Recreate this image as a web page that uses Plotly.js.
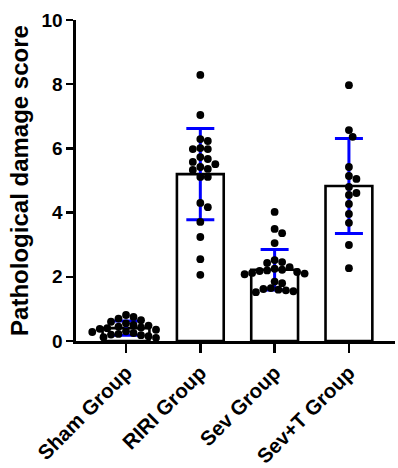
<!DOCTYPE html>
<html>
<head>
<meta charset="utf-8">
<script src="https://cdn.plot.ly/plotly-3.0.1.min.js"></script>
<style>html,body{margin:0;padding:0;background:#fff;}#chart{width:398px;height:468px;}</style>
</head>
<body>
<div id="chart"></div>
<script>
const categories = ["Sham Group", "RIRI Group", "Sev Group", "Sev+T Group"];
const means = [0.40, 5.20, 2.22, 4.83];
const sds = [0.22, 1.42, 0.63, 1.48];
const shamValues = [0.81, 0.75, 0.70, 0.65, 0.60, 0.55, 0.50, 0.48, 0.45, 0.42, 0.40, 0.38, 0.35, 0.30, 0.28, 0.25, 0.22, 0.20, 0.18, 0.15, 0.12, 0.10];
const ririValues = [8.29, 7.04, 6.23, 6.29, 5.98, 5.98, 6.01, 5.73, 5.67, 5.51, 5.58, 5.42, 5.36, 5.33, 5.11, 5.11, 4.17, 4.30, 3.71, 3.24, 2.55, 2.06];
const sevValues = [4.02, 3.49, 3.36, 3.05, 2.52, 2.46, 2.43, 2.30, 2.25, 2.22, 2.20, 2.18, 2.15, 2.12, 2.10, 2.08, 1.85, 1.80, 1.65, 1.62, 1.58, 1.55, 1.52, 1.60];
const sevTValues = [7.97, 6.57, 6.36, 5.42, 5.05, 5.14, 4.80, 4.61, 4.55, 4.27, 3.96, 3.68, 2.99, 2.27];
const groupValues = [shamValues, ririValues, sevValues, sevTValues];
const yTicks = [0, 2, 4, 6, 8, 10];

// beeswarm layout computed from the values (pixel scale of the plot)
const W = 398, H = 468;
const margin = {l: 76, r: 3, t: 20, b: 127};
const xRange = [-0.673, 3.62];
const yRange = [0, 10];
const pxX = (W - margin.l - margin.r) / (xRange[1] - xRange[0]);
const pxY = (H - margin.t - margin.b) / (yRange[1] - yRange[0]);
const D = 7.5;
function swarm(vals, center) {
  const placed = [];
  const sorted = vals.slice().sort((a, b) => b - a);
  const xs = [], ys = [];
  sorted.forEach(v => {
    const py = v * pxY;
    let off = 0;
    for (let k = 0; k < 60; k++) {
      const cand = k === 0 ? 0 : (k % 2 ? 1 : -1) * Math.ceil(k / 2) * D * 0.5;
      const ok = placed.every(p => Math.hypot(p[0] - cand, p[1] - py) >= D * 0.98);
      if (ok) { off = cand; break; }
    }
    placed.push([off, py]);
    xs.push(center + off / pxX);
    ys.push(v);
  });
  return {xs, ys};
}

const traces = [{
  type: 'bar',
  x: categories.map((c, i) => i),
  y: means,
  width: 0.63,
  marker: {color: '#ffffff', line: {color: '#000000', width: 2.6}},
  error_y: {type: 'data', array: sds, visible: true, color: '#0000ff', thickness: 3, width: 14},
  hoverinfo: 'none'
}];
groupValues.forEach((vals, i) => {
  const s = swarm(vals, i);
  traces.push({
    type: 'scatter', mode: 'markers', x: s.xs, y: s.ys,
    marker: {color: '#000000', size: 7.8}, hoverinfo: 'none'
  });
});

const layout = {
  width: W, height: H,
  margin: margin,
  paper_bgcolor: '#ffffff', plot_bgcolor: '#ffffff',
  showlegend: false,
  font: {family: 'Arial, "Liberation Sans", sans-serif', color: '#000000'},
  xaxis: {
    range: xRange, tickmode: 'array', tickvals: categories.map((c, i) => i),
    ticktext: categories.map(c => '<b>' + c + '</b>'),
    tickangle: -45, tickfont: {size: 20.5, color: '#000'},
    showline: true, linecolor: '#000', linewidth: 2.6,
    ticks: 'outside', ticklen: 9, tickwidth: 2.4, tickcolor: '#000',
    showgrid: false, zeroline: false, fixedrange: true
  },
  yaxis: {
    range: yRange, tickmode: 'array', tickvals: yTicks,
    ticktext: yTicks.map(t => '<b>' + t + '</b>'),
    tickfont: {size: 19, color: '#000'},
    showline: true, linecolor: '#000', linewidth: 2.6,
    ticks: 'outside', ticklen: 7, tickwidth: 2.4, tickcolor: '#000',
    showgrid: false, zeroline: false,
    title: {text: '<b>Pathological damage score</b>', font: {size: 24, color: '#000'}, standoff: 6}
  }
};
Plotly.newPlot('chart', traces, layout, {displayModeBar: false, staticPlot: true});
</script>
</body>
</html>
